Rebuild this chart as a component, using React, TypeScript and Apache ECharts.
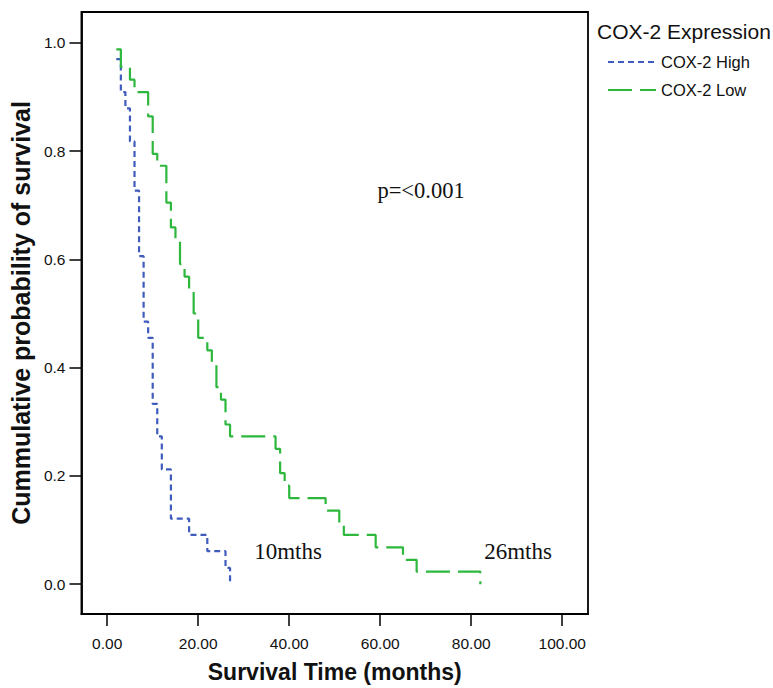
import React, { useEffect, useRef } from "react";
import * as echarts from "echarts";

// COX-2 High: event times (months) and survival after each step
const highTime = [2, 3, 4, 5, 6, 7, 8, 9, 10, 11, 12, 14, 18, 22, 26, 27];
const highSurv = [0.970, 0.909, 0.879, 0.818, 0.727, 0.606, 0.485, 0.455, 0.333, 0.273, 0.212, 0.121, 0.091, 0.061, 0.030, 0.0];

// COX-2 Low
const lowTime = [2, 3, 5, 6, 9, 10, 11, 13, 14, 15, 16, 17, 18, 19, 20, 22, 23, 24, 25, 26, 27, 37, 38, 39, 40, 48, 51, 52, 59, 65, 68, 82];
const lowSurv = [0.988, 0.955, 0.932, 0.909, 0.864, 0.795, 0.773, 0.705, 0.659, 0.636, 0.591, 0.568, 0.545, 0.500, 0.455, 0.432, 0.409, 0.364, 0.341, 0.295, 0.273, 0.250, 0.205, 0.182, 0.159, 0.136, 0.114, 0.091, 0.068, 0.045, 0.023, 0.0];

const xTicks = [0, 20, 40, 60, 80, 100];
const yTicks = [0, 0.2, 0.4, 0.6, 0.8, 1.0];

const seriesNames = ["COX-2 High", "COX-2 Low"];
const legendTitle = "COX-2 Expression";
const xName = "Survival Time (months)";
const yName = "Cummulative probability of survival";
const pText = "p=<0.001";
const highMedian = "10mths";
const lowMedian = "26mths";

const SANS = "'Liberation Sans', Arial, sans-serif";
const SERIF = "'Liberation Serif', 'Times New Roman', serif";

export default function App() {
  const ref = useRef<HTMLDivElement>(null);
  useEffect(() => {
    if (!ref.current) return;
    const chart = echarts.init(ref.current, undefined, { renderer: "svg" });
    const highData = highTime.map((t, i) => [t, highSurv[i]]);
    const lowData = lowTime.map((t, i) => [t, lowSurv[i]]);
    chart.setOption({
      animation: false,
      backgroundColor: "#fff",
      title: {
        text: legendTitle,
        left: 592,
        top: 16,
        textStyle: { fontFamily: SANS, fontSize: 21, fontWeight: "normal", color: "#111" },
      },
      legend: {
        orient: "vertical",
        left: 602,
        top: 47,
        itemWidth: 48,
        itemHeight: 20,
        itemGap: 8,
        data: seriesNames,
        itemStyle: { opacity: 0 },
        textStyle: { fontFamily: SANS, fontSize: 16.5, color: "#111", lineHeight: 20 },
      },
      grid: {
        left: 77,
        right: 185,
        top: 12,
        bottom: 71,
        show: true,
        borderColor: "#000",
        borderWidth: 1.8,
        backgroundColor: "transparent",
        containLabel: false,
      },
      xAxis: {
        type: "value",
        min: -5.66,
        max: 105.66,
        name: xName,
        nameLocation: "middle",
        nameGap: 46,
        nameTextStyle: { fontFamily: SANS, fontSize: 23, fontWeight: "bold", color: "#111" },
        axisLine: { show: true, onZero: false, lineStyle: { color: "#000", width: 1.8 } },
        axisTick: { show: true, length: 12, customValues: xTicks, lineStyle: { color: "#000", width: 1.5 } },
        axisLabel: {
          customValues: xTicks,
          margin: 21,
          fontFamily: SANS,
          fontSize: 15.5,
          color: "#111",
          formatter: (v: number) => v.toFixed(2),
        },
        splitLine: { show: false },
      },
      yAxis: {
        type: "value",
        min: -0.0551,
        max: 1.057,
        name: yName,
        nameLocation: "middle",
        nameGap: 45,
        nameTextStyle: { fontFamily: SANS, fontSize: 25, fontWeight: "bold", color: "#111" },
        axisLine: { show: true, onZero: false, lineStyle: { color: "#000", width: 1.8 } },
        axisTick: { show: true, length: 12, customValues: yTicks, lineStyle: { color: "#000", width: 1.5 } },
        axisLabel: {
          customValues: yTicks,
          margin: 16,
          fontFamily: SANS,
          fontSize: 15.5,
          color: "#111",
          formatter: (v: number) => v.toFixed(1),
        },
        splitLine: { show: false },
      },
      series: [
        {
          name: seriesNames[0],
          type: "line",
          step: "end",
          data: highData,
          symbol: "none",
          color: "#3f5cbd",
          lineStyle: { color: "#3f5cbd", width: 2.2, type: [6, 4] },
        },
        {
          name: seriesNames[1],
          type: "line",
          step: "end",
          data: lowData,
          symbol: "none",
          color: "#2db83d",
          lineStyle: { color: "#2db83d", width: 2.2, type: [24, 8] },
        },
      ],
      graphic: [
        {
          type: "text",
          x: 421,
          y: 190,
          style: { text: pText, fontFamily: SERIF, fontSize: 22.5, fill: "#111", textAlign: "center", textVerticalAlign: "middle" },
        },
        {
          type: "text",
          x: 288,
          y: 551,
          style: { text: highMedian, fontFamily: SERIF, fontSize: 23, fill: "#111", textAlign: "center", textVerticalAlign: "middle" },
        },
        {
          type: "text",
          x: 518,
          y: 551,
          style: { text: lowMedian, fontFamily: SERIF, fontSize: 23, fill: "#111", textAlign: "center", textVerticalAlign: "middle" },
        },
      ],
    });
    return () => chart.dispose();
  }, []);
  return (
    <div
      ref={ref}
      style={{ position: "fixed", left: 0, top: 0, width: 773, height: 688, background: "#fff" }}
    />
  );
}
